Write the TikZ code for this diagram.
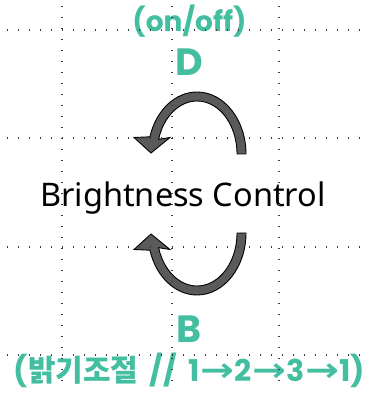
\documentclass[tikz,border=0pt]{standalone}
\usepackage{fontspec}
\setmainfont{Noto Sans}
\newfontfamily\kr{Noto Sans CJK KR}
\newfontfamily\pop{Poppins}
\newfontfamily\dvs{DejaVu Sans}
\definecolor{tealtxt}{RGB}{67,190,160}
\definecolor{arrowfill}{RGB}{90,90,90}
\definecolor{gridcol}{RGB}{60,60,60}
\newcommand{\drawcircarrow}{%
  \filldraw[arrowbody]
    (246,242) arc[start angle=0, end angle=163.9, x radius=49pt, y radius=62pt]
    -- (134,258.5) -- (151,243) -- (170,258.5) -- (158.6,256.7)
    arc[start angle=163.9, end angle=0, x radius=40pt, y radius=53pt] -- cycle;}
\newcommand{\rarr}{\kern0.5pt{\dvs\bfseries\scalebox{1.35}[1.1]{→}}\kern0.5pt}
\tikzset{
  arrowbody/.style={fill=arrowfill, draw=black, line width=0.9pt, line join=miter},
  gridline/.style={draw=gridcol, line width=1.4pt, dash pattern=on 1.4pt off 9.6pt},
  label/.style={inner sep=0pt, anchor=base, text=tealtxt},
}
\begin{document}
\begin{tikzpicture}[x=1pt,y=1pt]
\useasboundingbox (0,0) rectangle (375,396);
\drawcircarrow
\begin{scope}[cm={1,0,0,-1,(0,405)}]
\drawcircarrow
\end{scope}
\node[inner sep=0pt, anchor=base, font=\fontsize{32.5}{36}\selectfont] (bc) at (183,189) {Brightness Control};
\node[label, font=\pop\bfseries\fontsize{28}{32}\selectfont] (onoff) at (189.5,364.5) {(on/off)};
\node[label, font=\pop\bfseries\fontsize{38}{42}\selectfont] (d) at (189.5,320) {D};
\node[label, font=\pop\bfseries\fontsize{38}{42}\selectfont] (b) at (189.5,53) {B};
\node[label, font=\pop\bfseries\fontsize{30}{34}\selectfont] (kr) at (189.5,14.3) {({\kr\bfseries\fontsize{30}{34}\selectfont 밝기조절}\, //\, 1\rarr2\rarr3\rarr1)};
% grid
\foreach \y in {366,258,149,41} {
  \draw[gridline] (7,\y) -- (369,\y);
}
\foreach \x in {62,172,279} {
  \draw[gridline] (\x,390) -- (\x,7);
}
\end{tikzpicture}
\end{document}
